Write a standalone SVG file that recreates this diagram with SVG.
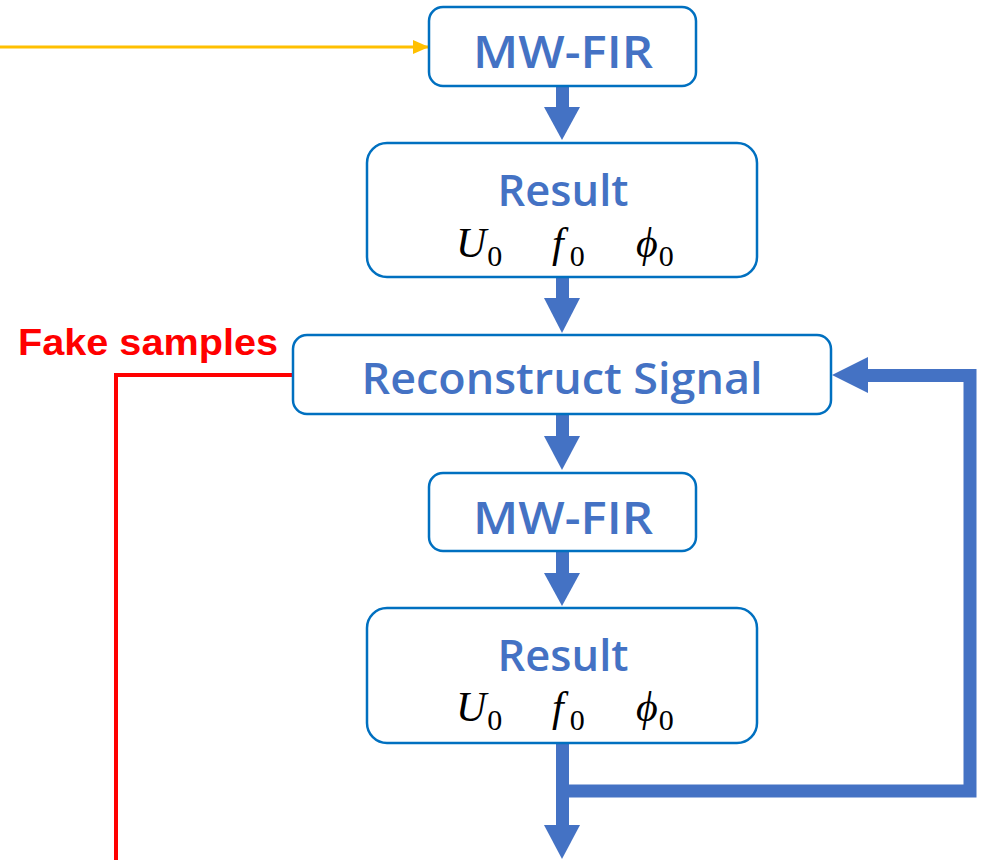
<svg xmlns="http://www.w3.org/2000/svg" width="992" height="860" viewBox="0 0 992 860">
<style>
.box{fill:#fff;stroke:#0070C0;stroke-width:2.5}
.lbl{font-family:"Open Sans","Liberation Sans",Arial,sans-serif;font-weight:600;fill:#4472C4;text-anchor:middle}
.math{font-family:"Liberation Serif","Times New Roman",serif;font-style:italic;font-size:42px;fill:#000}
.sub{font-style:normal;font-size:30px}
.shaft{stroke:#4472C4;stroke-width:13;fill:none}
.head{fill:#4472C4}
</style>
<defs>
<marker id="ya" markerWidth="16" markerHeight="14" refX="15" refY="7" orient="auto" markerUnits="userSpaceOnUse">
<path d="M0,0 L16,7 L0,14 Z" fill="#FFC000"/>
</marker>
</defs>
<g id="connectors">
<line x1="0" y1="47" x2="428" y2="47" stroke="#FFC000" stroke-width="3" marker-end="url(#ya)"/>
<line class="shaft" x1="562.5" y1="86" x2="562.5" y2="108"/>
<path class="head" d="M544,107 L580,107 L562,140 Z"/>
<line class="shaft" x1="562.5" y1="277" x2="562.5" y2="299"/>
<path class="head" d="M544,298 L580,298 L562,333 Z"/>
<line class="shaft" x1="562.5" y1="414" x2="562.5" y2="437"/>
<path class="head" d="M544,436 L580,436 L562,470 Z"/>
<line class="shaft" x1="562.5" y1="551" x2="562.5" y2="574"/>
<path class="head" d="M544,573 L580,573 L562,606 Z"/>
<line class="shaft" x1="562.5" y1="743" x2="562.5" y2="826"/>
<path class="head" d="M544,825 L580,825 L562,859 Z"/>
<polyline class="shaft" points="562,791 970,791 970,375.5 866,375.5"/>
<path class="head" d="M868,357 L868,393 L832,375 Z"/>
<polyline points="293,375 116,375 116,860" fill="none" stroke="#FF0000" stroke-width="4"/>
</g>
<g id="mwfir1">
<rect class="box" x="429" y="7" width="267" height="79" rx="14"/>
<text class="lbl" x="563" y="68" font-size="46" textLength="180" lengthAdjust="spacingAndGlyphs">MW-FIR</text>
</g>
<g id="result1">
<rect class="box" x="367" y="143" width="390" height="134" rx="20"/>
<text class="lbl" x="563" y="206" font-size="44" textLength="131" lengthAdjust="spacingAndGlyphs">Result</text>
<text class="math" y="257"><tspan x="456">U</tspan><tspan class="sub" dx="1" dy="9">0</tspan><tspan x="552" dy="-9">f</tspan><tspan class="sub" dx="6" dy="9">0</tspan><tspan x="636" dy="-9">ϕ</tspan><tspan class="sub" dx="1" dy="9">0</tspan></text>
</g>
<g id="reconstruct">
<rect class="box" x="293" y="335" width="538" height="79" rx="14"/>
<text class="lbl" x="562" y="394" font-size="44" textLength="401" lengthAdjust="spacingAndGlyphs">Reconstruct Signal</text>
</g>
<g id="fake">
<text x="18" y="355" font-family="'Liberation Sans',Arial,sans-serif" font-weight="bold" font-size="36" fill="#FF0000" textLength="260" lengthAdjust="spacingAndGlyphs">Fake samples</text>
</g>
<g id="mwfir2">
<rect class="box" x="429" y="473" width="267" height="78" rx="14"/>
<text class="lbl" x="563" y="534" font-size="46" textLength="180" lengthAdjust="spacingAndGlyphs">MW-FIR</text>
</g>
<g id="result2">
<rect class="box" x="367" y="608" width="390" height="135" rx="20"/>
<text class="lbl" x="563" y="671" font-size="44" textLength="131" lengthAdjust="spacingAndGlyphs">Result</text>
<text class="math" y="721"><tspan x="456">U</tspan><tspan class="sub" dx="1" dy="9">0</tspan><tspan x="552" dy="-9">f</tspan><tspan class="sub" dx="6" dy="9">0</tspan><tspan x="636" dy="-9">ϕ</tspan><tspan class="sub" dx="1" dy="9">0</tspan></text>
</g>
</svg>
